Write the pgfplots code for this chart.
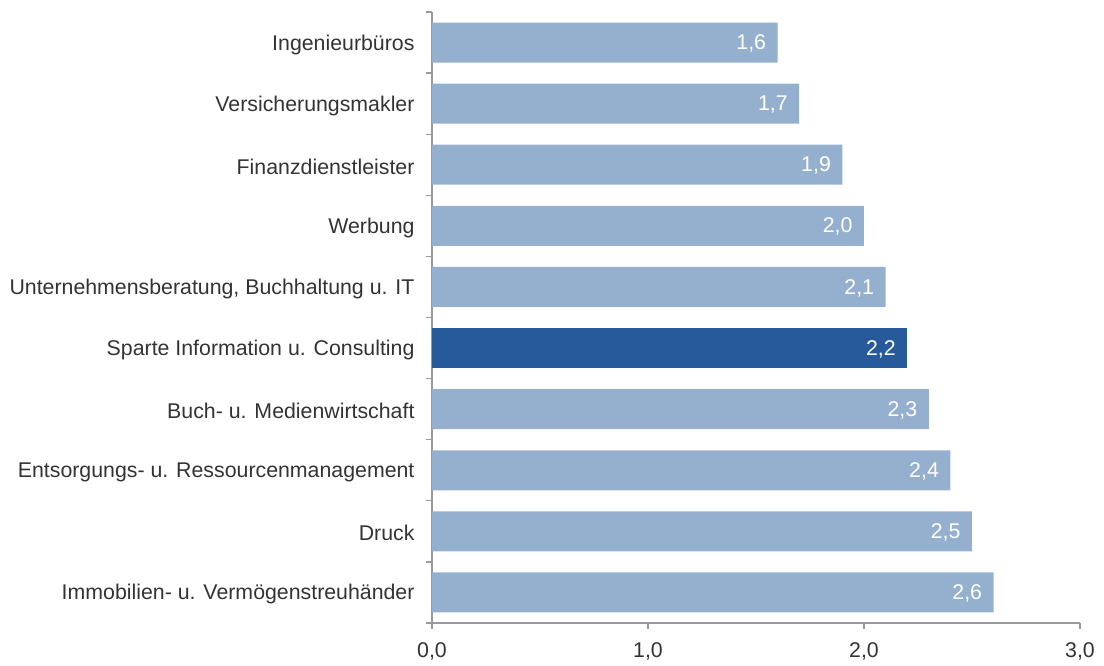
\documentclass[border=0pt]{standalone}
\usepackage{pgfplots}
\pgfplotsset{compat=1.18}
\usepackage{fontspec}
\setmainfont{Liberation Sans}
\definecolor{barlight}{HTML}{95B0CF}
\definecolor{bardark}{HTML}{265A9A}
\definecolor{axgray}{HTML}{999999}
\definecolor{txt}{HTML}{333333}
\begin{document}
\begin{tikzpicture}
\begin{axis}[
  name=ax,
  scale only axis,
  width=648bp, height=611bp,
  xbar, bar width=40bp, bar shift=0pt,
  xmin=0, xmax=3,
  ymin=-0.5, ymax=9.5,
  y dir=reverse,
  axis lines*=left,
  axis line style={axgray, line width=1.2pt},
  xtick={0,1,2,3},
  xticklabels={{0,0},{1,0},{2,0},{3,0}},
  ytick={-0.5,0.5,...,9.5},
  yticklabels={Ingenieurbüros,Versicherungsmakler,Finanzdienstleister,Werbung,{Unternehmensberatung, Buchhaltung u. IT},Sparte Information u. Consulting,Buch- u. Medienwirtschaft,Entsorgungs- u. Ressourcenmanagement,Druck,Immobilien- u. Vermögenstreuhänder,{}},
  major tick length=6bp,
  tick align=outside,
  tick style={axgray, line width=1.2pt},
  ticklabel style={font=\fontsize{21.4}{23}\selectfont, text=txt},
  yticklabel style={xshift=-8bp, yshift=-32.5bp},
  xticklabel style={yshift=-10bp},
  /pgf/number format/assume math mode=true,
  nodes near coords,
  nodes near coords style={anchor=east, xshift=-8bp, yshift=-1bp, text=white, font=\fontsize{21.4}{23}\selectfont,
    /pgf/number format/.cd, use comma, fixed, fixed zerofill, precision=1},
  clip=false,
]
\addplot[fill=barlight, draw=none] table[x=v, y=i] {
i v
0 1.6
1 1.7
2 1.9
3 2.0
4 2.1
6 2.3
7 2.4
8 2.5
9 2.6
};
\addplot[fill=bardark, draw=none] table[x=v, y=i] {
i v
5 2.2
};
\end{axis}
\pgfresetboundingbox
\path (ax.south west) ++(-432bp,-43bp) rectangle ++(1104bp,666bp);
\end{tikzpicture}
\end{document}
